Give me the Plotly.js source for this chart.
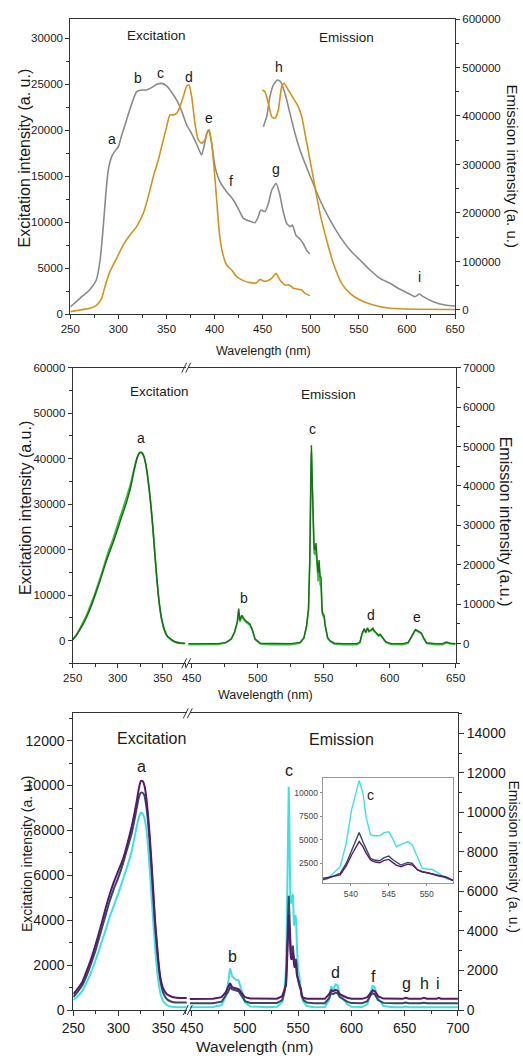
<!DOCTYPE html>
<html><head><meta charset="utf-8">
<script src="https://cdn.plot.ly/plotly-3.0.1.min.js"></script>
<style>html,body{margin:0;padding:0;background:#fff}#c{width:523px;height:1056px}</style>
</head><body><div id="c"></div>
<script>
// ---------- Panel 1 data ----------
const p1ExGrayX = [250,260,270,277,281,284,287,289.5,293,296,300,303,308.5,314,319,324,329,335,340,345,350,355,360.5,366,371,376,381,386.5,389,392,394,397,400.5,405.5,412.5,419.5,424.5,430,435,442,445.5,448,452.5,456,459.5,464,467.5,471,475,478.5,481,484.5,489,492,496,499];
const p1ExGrayY = [800,1740,2640,3730,5900,9170,13150,15690,17140,17680,18220,19310,21120,22930,24200,24380,24380,24670,25000,25100,24820,24200,23300,22030,20580,19670,18590,17320,18220,19670,20040,18590,16050,14420,13330,12430,11520,10430,10180,9960,10620,11340,11160,12060,13510,14240,13150,11340,9890,9530,9710,8620,8150,7720,6920,6560];
const p1ExOrX = [250,260,270.5,277.4,282.6,286,291.2,298.2,305.1,312,319,325.9,331.1,336.3,341.5,346.7,350.2,353.6,357.1,360.6,364,367.5,371,373.4,376.2,379.6,383.1,386.6,390,392.5,394.5,397,399.4,402.2,405,408.4,412.6,417.8,423,429.9,436.8,443.8,447.2,450.7,454.2,459.4,463.9,468,473.2,477.7,481.9,487.1,490.6,494,499.2];
const p1ExOrY = [290,470,650,1010,1740,3000,4640,6090,7540,8620,9530,10980,12790,14960,16770,18950,20400,21670,21670,21850,22570,23660,24820,24930,23660,20760,18950,18590,18950,19850,20040,18590,16050,12430,8800,6630,5360,4820,4090,3660,3440,3440,3800,3620,3620,3910,4460,3730,3190,3190,2830,2720,2640,2280,2030];
const p1EmGrayX = [450.7,454.2,457.6,461.1,465.2,468.7,473.2,478.4,483.6,488.8,494,501,509.6,520,530.4,540.8,551.2,561.6,572,582.4,592.8,603.2,608.4,612.9,617,627.4,639.6,650];
const p1EmGrayY = [378000,398600,439900,463900,474200,470800,446700,405500,364300,329900,302400,268000,226800,185600,151200,123700,103100,82500,65300,55000,42600,32300,27500,33000,27500,17200,10300,8200];
const p1EmOrX = [449.7,452.4,455.9,459.4,462.8,466.3,469.8,472.2,476.7,481.9,487.1,490.6,494,499.2,504.4,509.6,516.5,523.5,532.1,540.8,551.2,565.1,582.4,610,650];
const p1EmOrY = [453600,450200,426100,398600,395200,412400,460500,467400,453600,436400,419300,398600,364300,309300,254300,199300,144300,96200,55000,34400,20600,10300,3400,1500,1000];

// ---------- Panel 2 data ----------
const p2ExX = [250,254,258,262,266,270,274,278,282,286,290,295,300,305,310,314,318,321,323,325,327,329,331,333,335,337,339,341,343,345,347,349,352,355,358,362,366,370,375];
const p2ExDark = [150,1100,2400,3800,5400,7300,9500,11800,14200,16700,19000,21600,24600,27600,30600,33400,37200,39700,40900,41350,41300,40600,39000,36500,33300,29500,25000,19800,14800,10400,7000,4600,2300,1000,500,-100,-400,-550,-600];
const p2ExBright = [250,1300,2700,4200,5900,7900,10000,12300,14700,17300,19800,22500,25600,28600,31700,34300,37700,40000,41000,41400,41200,40400,38800,36300,33100,29300,24800,19600,14600,10200,6800,4400,2100,900,400,-200,-500,-650,-700];
const p2EmX = [447.5,460,470,476,480,482.5,484.5,485.6,486.5,487.9,489,490.5,492,494,496,498,502,510,525,532,535,537,538.5,539.5,540.2,540.7,541.3,542,542.7,543.5,544.2,545,545.8,546.5,547.3,548,548.8,549.5,550.3,551,551.8,553,555,558,565,575,577.5,579,580.7,581.9,583.2,584.3,585.2,586.2,587.2,588.2,589.5,591.5,592.8,594.5,597,601,610,614,616,618,619.5,621,622.5,624,626,628,635,640,643,646,650];
const p2EmDark = [0,0,0,300,1200,3000,5500,8900,6000,7200,6500,5900,5500,5000,3500,1200,100,0,0,300,1500,4500,9000,22000,45000,50300,42000,30000,24500,23700,25500,21000,18000,21200,17000,16800,8500,7500,7200,5000,3400,1500,700,100,0,0,400,2500,3800,2900,4000,3200,3400,3500,4000,3300,2900,2100,2400,1500,500,0,0,300,1500,2800,3600,3300,3100,2700,1300,200,0,0,400,100,0];
const p2EmBright = [-300,-300,-200,200,1100,2800,5200,8000,5500,6800,6200,5600,5200,4700,3300,1000,-100,-300,-300,100,1300,4200,8500,21000,43000,48500,40000,28500,23000,22500,24000,19500,15800,19800,15000,14400,7800,7000,6800,4600,3100,1300,500,-100,-300,-300,200,2300,3600,2700,3800,3000,3200,3300,3800,3100,2700,1900,2200,1300,300,-200,-300,100,1300,2600,3400,3100,2900,2500,1100,0,-300,-300,200,-100,-200];

// ---------- Panel 3 data ----------
const p3ExX = [250,255,260,265,270,275,280,285,290,295,300,305,310,315,320,323,325,327,329,331,333,335,337,339,341,343,345,347,350,354,360,368,376];
const p3ExPurple = [710,950,1250,1750,2300,2950,3650,4400,5100,5700,6200,6700,7400,8200,9200,9900,10200,10200,10000,9500,8700,7700,6500,5200,3900,2900,2000,1400,950,700,580,540,530];
const p3ExDark = [580,820,1100,1550,2100,2700,3400,4100,4800,5400,5900,6500,7200,7900,8900,9500,9680,9680,9550,9100,8400,7400,6200,4900,3700,2700,1850,1250,750,480,360,330,330];
const p3ExCyan = [440,620,850,1250,1700,2250,2850,3450,4100,4650,5200,5800,6400,7100,8100,8600,8790,8750,8550,8100,7300,6200,5000,3800,2700,1800,1150,700,380,220,140,120,120];
const p3EmX = [448,460,470,478,482,484,486,488,491,494,497,500,505,520,530,535,537,538.6,539.4,540.1,541.1,541.6,542,542.6,543.1,543.8,544.4,545,545.5,546,546.6,547.5,548.1,548.8,549.4,550.1,550.7,551.6,552.5,553.4,555,558,565,575,579,581,583,585,587,589,592,596,600,610,615,618,620,622,625,630,640,648,651,654,665,668,671,680,682,684,690,700];
const p3EmCyan = [135,140,150,250,700,1300,2100,1700,1550,1500,900,400,180,140,160,400,900,2140,4620,8170,11290,9940,7460,5510,5430,5430,5750,5850,5140,4270,4450,4800,4450,3210,1970,1860,1860,1430,900,650,400,200,140,150,500,1200,1000,1300,1250,800,600,300,160,150,300,900,1250,1100,600,200,140,140,180,140,140,170,140,140,170,140,140,140];
const p3EmDark = [340,340,345,420,700,900,1150,1050,1000,950,700,450,360,340,350,500,900,1430,2480,3900,5780,4790,4000,3010,2840,2770,3100,3260,2900,2660,2310,2590,2480,1790,1600,1500,1360,1200,1080,720,500,380,340,345,600,850,800,880,850,650,550,420,350,345,450,750,850,780,500,360,340,340,380,340,345,370,345,345,370,345,345,345];
const p3EmPurple = [560,560,565,650,900,1150,1350,1150,1100,1050,850,650,580,560,570,700,1000,1260,2210,3380,4800,4270,3600,2840,2660,2550,2800,2910,2600,2310,2140,2410,2310,1790,1600,1500,1360,1150,1000,700,620,570,560,565,800,1000,950,1020,980,800,720,620,570,565,650,900,1000,950,700,580,565,565,620,570,565,620,570,565,620,570,565,565];

// ---------- text ----------
const xTitle = 'Wavelength (nm)';
const exTitleA = 'Excitation intensity (a. u.)', emTitleA = 'Emission intensity (a. u.)';
const exTitleB = 'Excitation intensity (a.u.)', emTitleB = 'Emission intensity (a.u.)';
const p1Letters = ['a','b','c','d','e','f','g','h','i'];
const p2Letters = ['a','b','c','d','e'];
const p3Letters = ['a','b','c','d','f','g','h','i'];
const insetTicks = [2500,5000,7500,10000];

// ---------- layout helpers ----------
const W=523,H=1056,ML=70,MR=65,MT=19,MB=46;
const PW=W-ML-MR, PH=H-MT-MB;
const px = x => (x-ML)/PW;
const py = y => (H-MB-y)/PH;
const F1 = "'Liberation Sans',Arial,sans-serif";
const F3 = "'Liberation Sans',Arial,sans-serif";
const AX = '#333', TXT = '#1a1a1a';
const TK = 11.5;

function xax(dom, rng, anchor, font, fs, extra){
  return Object.assign({domain:dom, range:rng, anchor:anchor, tickmode:'linear', dtick:50, tick0:250,
    ticks:'outside', ticklen:4, tickcolor:AX, showline:true, mirror:true, linecolor:AX, linewidth:1,
    showgrid:false, zeroline:false, tickformat:'d',
    tickfont:{family:font,size:fs,color:TXT},
    minor:{dtick:25, tick0:250, ticks:'outside', ticklen:3, tickcolor:AX}}, extra||{});
}
function yax(dom, rng, anchor, side, dt, font, fs, extra){
  return Object.assign({domain:dom, range:rng, anchor:anchor, side:side, tickmode:'linear', dtick:dt, tick0:0,
    ticks:'outside', ticklen:4, tickcolor:AX, showline:true, linecolor:AX, linewidth:1,
    showgrid:false, zeroline:false, tickformat:'d',
    tickfont:{family:font,size:fs,color:TXT},
    minor:{dtick:dt/2, ticks:'outside', ticklen:3, tickcolor:AX}}, extra||{});
}

const d1y=[py(314.3),py(19)], d2y=[py(663.3),py(367.7)], d3y=[0,py(713.3)];

const layout = {
  width:W, height:H, margin:{l:ML,r:MR,t:MT,b:MB}, paper_bgcolor:'#fff', plot_bgcolor:'rgba(0,0,0,0)',
  showlegend:false, hovermode:false, font:{family:F1,color:TXT},
  xaxis: xax([px(70.3),px(455)],[250,650],'y',F1,TK),
  yaxis: yax(d1y,[0,32100],'x','left',5000,F1,TK),
  yaxis2: yax(d1y,[-8900,600000],'x','right',100000,F1,TK,{overlaying:'y'}),
  xaxis2: xax([px(72.7),px(185.5)],[250,375.3],'y3',F1,TK),
  xaxis3: xax([px(188),px(455.7)],[447.2,650],'y4',F1,TK,{tick0:450, minor:{dtick:25,tick0:450,ticks:'outside',ticklen:3,tickcolor:AX}}),
  yaxis3: yax(d2y,[-5000,60000],'x2','left',10000,F1,TK),
  yaxis4: yax(d2y,[-5000,70000],'x3','right',10000,F1,TK),
  xaxis4: xax([px(73.3),px(187)],[250,376.3],'y5',F3,14,{ticklen:5}),
  xaxis5: xax([px(189.5),1],[447.9,700.1],'y6',F3,14,{ticklen:5, tick0:450, minor:{dtick:25,tick0:450,ticks:'outside',ticklen:3,tickcolor:AX}}),
  yaxis5: yax(d3y,[0,13220],'x4','left',2000,F3,14,{ticklen:5}),
  yaxis6: yax(d3y,[0,15010],'x5','right',2000,F3,14,{ticklen:5}),
  xaxis6: {domain:[px(322.7),px(453.3)], range:[536.3,553.5], anchor:'y7', tickmode:'linear', tick0:540, dtick:5,
    ticks:'outside', ticklen:2, tickcolor:'#888', showline:true, mirror:true, linecolor:'#999', linewidth:1,
    showgrid:false, zeroline:false, tickformat:'d', tickfont:{family:F3,size:8.5,color:'#444'}},
  yaxis7: {domain:[py(883.3),py(778.3)], range:[370,11530], anchor:'x6', tickmode:'array', tickvals:insetTicks,
    ticktext:insetTicks.map(String),
    ticks:'outside', ticklen:2, tickcolor:'#888', showline:true, mirror:true, linecolor:'#999', linewidth:1,
    showgrid:false, zeroline:false, tickfont:{family:F3,size:8.5,color:'#444'}},
  annotations: [], shapes: []
};

function ann(text, x, y, font, size, angle){
  layout.annotations.push({text:text, x:px(x), y:py(y), xref:'paper', yref:'paper', showarrow:false,
    xanchor:'center', yanchor:'middle', textangle:angle||0, font:{family:font, size:size, color:TXT}});
}
// panel 1 texts
ann('Excitation',156.7,36,F1,13.5); ann('Emission',346.7,38,F1,13.5);
[[111.7,139.3],[138.3,78.3],[160.7,72.7],[188.7,76.7],[209,118.3],[230.7,181],[276,169.3],[278.7,66.7],[419.3,277.3]]
  .forEach((p,i)=>ann(p1Letters[i],p[0],p[1],F1,14));
ann(exTitleA,23.5,158,F1,16,-90); ann(emTitleA,512.5,166,F1,15,90); ann(xTitle,263.5,350.7,F1,12.5);
// panel 2 texts
ann('Excitation',159,391.7,F1,13.5); ann('Emission',328.3,395,F1,13.5);
[[141,438.3],[243.7,597.7],[312.7,429],[371,615],[417.3,616.7]].forEach((p,i)=>ann(p2Letters[i],p[0],p[1],F1,14));
ann(exTitleB,25,508,F1,16,-90); ann(emTitleB,505,521.7,F1,16,90); ann(xTitle,265,695,F1,12.5);
// panel 3 texts
ann('Excitation',151.7,738.3,F3,16); ann('Emission',341,739.3,F3,16);
[[141.7,766.7],[232.3,956],[288.7,770],[335,972.7],[373.3,976.7],[406.7,983.3],[424,983.3],[438.3,983.3]]
  .forEach((p,i)=>ann(p3Letters[i],p[0],p[1],F3,16));
ann('c',370.7,795,F3,14);
ann(exTitleA,27,854,F3,14,-90); ann(emTitleA,513.5,857,F3,14,90); ann(xTitle,254,1046,F3,15.5);

// axis break marks
function brk(bx, by){
  [-2.5,1.5].forEach(d=>layout.shapes.push({type:'line', xref:'paper', yref:'paper',
    x0:px(bx+d-2.5), y0:py(by+5), x1:px(bx+d+2.5), y1:py(by-5), line:{color:AX,width:1}}));
}
brk(186.7,367.7); brk(186.7,663.3); brk(188.3,713.3); brk(188.3,1010);

const GRAY='#8a8a8a', ORANGE='#d3921b', DKG='#1d6b1d', BRG='#35c435', PUR='#5a1868', DRK='#2f4b66', CYN='#3fe0e0';
function tr(x,y,xa,ya,color,w,shape){
  return {type:'scatter', mode:'lines', x:x, y:y, xaxis:xa, yaxis:ya,
    line:{color:color, width:w, shape:shape||'spline', smoothing:0.5}};
}
const data = [
  tr(p1ExGrayX,p1ExGrayY,'x','y',GRAY,1.6), tr(p1ExOrX,p1ExOrY,'x','y',ORANGE,1.6),
  tr(p1EmGrayX,p1EmGrayY,'x','y2',GRAY,1.6), tr(p1EmOrX,p1EmOrY,'x','y2',ORANGE,1.6),
  tr(p2ExX,p2ExBright,'x2','y3',BRG,1.6), tr(p2ExX,p2ExDark,'x2','y3',DKG,1.6),
  tr(p2EmX,p2EmBright,'x3','y4',BRG,1.6,'linear'), tr(p2EmX,p2EmDark,'x3','y4',DKG,1.4,'linear'),
  tr(p3ExX,p3ExCyan,'x4','y5',CYN,2), tr(p3ExX,p3ExDark,'x4','y5',DRK,2), tr(p3ExX,p3ExPurple,'x4','y5',PUR,2),
  tr(p3EmX,p3EmCyan,'x5','y6',CYN,2,'linear'), tr(p3EmX,p3EmDark,'x5','y6',DRK,2,'linear'), tr(p3EmX,p3EmPurple,'x5','y6',PUR,2,'linear'),
  tr(p3EmX,p3EmCyan,'x6','y7',CYN,1.4,'linear'), tr(p3EmX,p3EmDark,'x6','y7',DRK,1.4,'linear'), tr(p3EmX,p3EmPurple,'x6','y7',PUR,1.4,'linear')
];
Plotly.newPlot('c', data, layout, {staticPlot:true, displayModeBar:false});
</script></body></html>
